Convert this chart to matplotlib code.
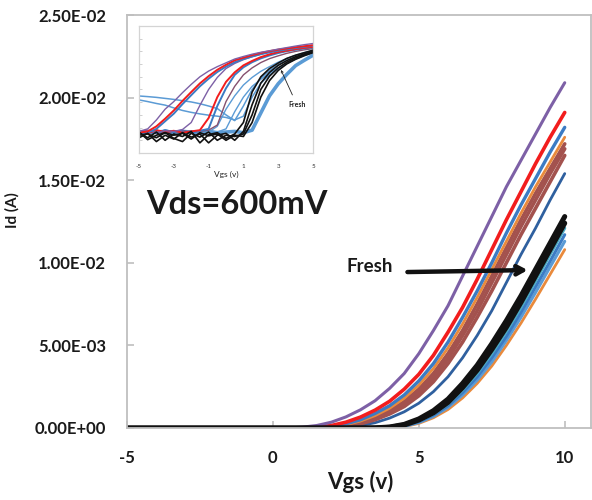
import matplotlib
matplotlib.use("Agg")
import matplotlib.pyplot as plt
import numpy as np
from matplotlib.ticker import FixedLocator, NullFormatter, LogLocator

plt.rcParams['font.family'] = ['Lato', 'DejaVu Sans']

# ---------------- main chart data (Id in mA) ----------------
vgs_main = [-5, 0.5, 1, 1.5, 2, 2.5, 3, 3.5, 4, 4.5, 5, 5.5, 6, 6.5, 7, 7.5, 8, 8.5, 9, 9.5, 10]
id_purple   = [0, 0, 0.05, 0.15, 0.35, 0.67, 1.1, 1.65, 2.4, 3.3, 4.5, 5.9, 7.4, 9.2, 11.0, 12.8, 14.6, 16.2, 17.8, 19.4, 20.9]
id_red      = [0, 0, 0, 0.05, 0.15, 0.35, 0.66, 1.08, 1.62, 2.35, 3.25, 4.4, 5.8, 7.3, 9.0, 10.8, 12.6, 14.3, 16.0, 17.6, 19.1]
id_blue     = [0, 0, 0, 0.03, 0.1, 0.25, 0.5, 0.88, 1.35, 2.0, 2.85, 3.9, 5.2, 6.7, 8.3, 10.0, 11.8, 13.5, 15.1, 16.7, 18.2]
id_orange1  = [0, 0, 0, 0, 0.08, 0.2, 0.42, 0.75, 1.2, 1.8, 2.6, 3.6, 4.85, 6.3, 7.9, 9.6, 11.3, 13.0, 14.6, 16.1, 17.6]
id_brown1   = [0, 0, 0, 0, 0.05, 0.15, 0.35, 0.65, 1.05, 1.6, 2.35, 3.3, 4.5, 5.9, 7.5, 9.2, 10.9, 12.6, 14.2, 15.7, 17.2]
id_brown2   = [0, 0, 0, 0, 0.04, 0.12, 0.3, 0.58, 0.95, 1.45, 2.15, 3.05, 4.2, 5.6, 7.1, 8.8, 10.5, 12.2, 13.8, 15.4, 16.9]
id_brown3   = [0, 0, 0, 0, 0.03, 0.1, 0.25, 0.5, 0.85, 1.3, 1.95, 2.8, 3.9, 5.2, 6.7, 8.3, 10.0, 11.7, 13.3, 14.9, 16.5]
id_darkblue = [0, 0, 0, 0, 0, 0.05, 0.15, 0.32, 0.6, 0.98, 1.5, 2.2, 3.1, 4.25, 5.6, 7.1, 8.8, 10.5, 12.1, 13.8, 15.4]
id_black1   = [0, 0, 0, 0, 0, 0, 0, 0.01, 0.06, 0.22, 0.55, 1.05, 1.75, 2.7, 3.8, 5.1, 6.5, 8.0, 9.6, 11.2, 12.8]
id_black2   = [0, 0, 0, 0, 0, 0, 0, 0, 0.04, 0.18, 0.48, 0.92, 1.55, 2.45, 3.5, 4.75, 6.1, 7.6, 9.2, 10.8, 12.4]
id_teal     = [0, 0, 0, 0, 0, 0, 0, 0, 0.03, 0.14, 0.42, 0.85, 1.45, 2.3, 3.3, 4.5, 5.85, 7.3, 8.9, 10.5, 12.1]
id_blue2    = [0, 0, 0, 0, 0, 0, 0, 0, 0.02, 0.12, 0.38, 0.78, 1.35, 2.15, 3.1, 4.25, 5.55, 7.0, 8.55, 10.1, 11.7]
id_ltblue   = [0, 0, 0, 0, 0, 0, 0, 0, 0, 0.1, 0.33, 0.7, 1.25, 2.0, 2.9, 4.0, 5.3, 6.7, 8.2, 9.75, 11.3]
id_orange2  = [0, 0, 0, 0, 0, 0, 0, 0, 0, 0.08, 0.28, 0.62, 1.12, 1.82, 2.7, 3.75, 5.0, 6.35, 7.8, 9.3, 10.8]

x_ticks = [-5, 0, 5, 10]
y_ticks = [0, 0.005, 0.010, 0.015, 0.020, 0.025]

# ---------------- inset data (log10 Id) ----------------
vgs_inset = [-5, -4.5, -4, -3.5, -3, -2.5, -2, -1.5, -1, -0.5, 0, 0.5, 1, 1.5, 2, 2.5, 3, 3.5, 4, 4.5, 5]
lg_P1  = [-10.3, -10.1, -9.4, -8.55, -7.95, -7.25, -6.6, -6.0, -5.55, -5.2, -4.9, -4.6, -4.4, -4.22, -4.07, -3.95, -3.82, -3.7, -3.58, -3.47, -3.38]
lg_R1  = [-10.4, -10.3, -9.9, -9.3, -8.65, -7.9, -7.2, -6.52, -5.95, -5.45, -5.05, -4.7, -4.5, -4.3, -4.12, -3.98, -3.86, -3.77, -3.67, -3.59, -3.51]
lg_B1  = [-10.5, -10.4, -10.1, -9.5, -8.9, -8.15, -7.45, -6.75, -6.15, -5.62, -5.2, -4.85, -4.6, -4.4, -4.22, -4.07, -3.95, -3.84, -3.74, -3.64, -3.55]
lg_P2  = [-10.35, -10.2, -10.4, -10.25, -10.3, -10.15, -9.6, -8.25, -7.0, -6.05, -5.35, -4.95, -4.65, -4.42, -4.22, -4.05, -3.92, -3.8, -3.7, -3.62, -3.55]
lg_R2  = [-10.3, -10.45, -10.2, -10.35, -10.25, -10.4, -10.3, -10.2, -9.25, -7.6, -6.4, -5.65, -5.1, -4.75, -4.45, -4.23, -4.05, -3.94, -3.82, -3.72, -3.64]
lg_B2  = [-10.4, -10.3, -10.45, -10.2, -10.35, -10.3, -10.4, -10.25, -10.1, -8.3, -6.9, -5.85, -5.25, -4.85, -4.55, -4.32, -4.13, -3.98, -3.87, -3.77, -3.68]
lg_M1  = [-10.3, -10.35, -10.2, -10.4, -10.3, -10.25, -10.35, -10.3, -10.2, -9.8, -7.95, -6.75, -5.85, -5.3, -4.88, -4.57, -4.35, -4.15, -4.0, -3.88, -3.78]
lg_L1  = [-10.4, -10.3, -10.35, -10.2, -10.3, -10.4, -10.25, -10.3, -10.35, -9.9, -8.55, -7.5, -6.65, -6.05, -5.57, -5.2, -4.85, -4.55, -4.3, -4.1, -3.91]
lg_L2  = [-10.3, -10.4, -10.25, -10.35, -10.3, -10.2, -10.4, -10.3, -10.25, -10.35, -10.1, -8.75, -7.6, -6.75, -6.2, -5.7, -5.3, -4.92, -4.6, -4.3, -4.04]
lg_LK1 = [-7.51, -7.56, -7.62, -7.7, -7.78, -7.88, -7.98, -8.12, -8.3, -8.5, -9.0, -9.45, -8.3, -7.0, -6.1, -5.5, -5.05, -4.7, -4.42, -4.2, -4.0]
lg_LK2 = [-7.82, -7.95, -8.1, -8.23, -8.45, -8.65, -8.8, -8.92, -9.02, -9.1, -9.2, -9.4, -9.1, -7.6, -6.5, -5.85, -5.35, -4.95, -4.6, -4.32, -4.1]
lg_K1  = [-10.4, -10.8, -10.35, -11.0, -10.5, -10.7, -10.3, -11.2, -10.55, -10.4, -10.85, -10.5, -9.6, -7.2, -6.0, -5.35, -4.92, -4.55, -4.3, -4.1, -3.91]
lg_K2  = [-10.8, -10.45, -11.1, -10.6, -10.9, -10.4, -10.75, -10.5, -11.2, -10.6, -10.45, -11.0, -10.3, -8.2, -6.5, -5.65, -5.1, -4.72, -4.42, -4.2, -4.0]
lg_K3  = [-10.35, -10.95, -10.6, -10.4, -10.85, -11.1, -10.45, -10.75, -10.35, -11.0, -10.6, -10.7, -10.5, -9.0, -7.0, -5.95, -5.3, -4.85, -4.52, -4.27, -4.05]
lg_K4  = [-10.6, -10.5, -10.8, -10.4, -10.6, -10.45, -10.9, -10.4, -10.65, -10.5, -11.0, -10.6, -10.7, -9.6, -7.6, -6.3, -5.5, -4.98, -4.62, -4.34, -4.1]
lg_TB  = [-10.3, -10.4, -10.35, -10.3, -10.4, -10.3, -10.35, -10.45, -10.3, -10.4, -10.35, -10.3, -10.4, -10.2, -8.85, -7.5, -6.55, -5.8, -5.12, -4.7, -4.3]
inset_x_ticks = [-5, -3, -1, 1, 3, 5]

# ---------------- colours ----------------
C_PURPLE = '#7D60A6'
C_RED = '#F21D1D'
C_BLUE = '#3B7BC4'
C_ORANGE = '#E98A3C'
C_BROWN = '#A3524E'
C_DKBLUE = '#2F609F'
C_BLACK = '#111111'
C_TEAL = '#4AAAC4'
C_LTBLUE = '#5B9BD5'
C_MAUVE = '#85506E'
GRID_GREY = '#BFBFBF'

fig = plt.figure(figsize=(5.92, 5.0), dpi=100)
ax = fig.add_axes([127/592, 1-428/500, 464/592, 413/500])

def mA(v):
    return np.asarray(v) / 1000.0

main_series = [
    (id_orange2, C_ORANGE, 2.0),
    (id_ltblue, C_LTBLUE, 2.2),
    (id_blue2, C_BLUE, 2.2),
    (id_teal, C_TEAL, 2.2),
    (id_darkblue, C_DKBLUE, 2.0),
    (id_brown3, C_BROWN, 2.6),
    (id_brown2, C_BROWN, 2.6),
    (id_brown1, C_BROWN, 2.6),
    (id_orange1, C_ORANGE, 2.0),
    (id_blue, C_BLUE, 2.4),
    (id_red, C_RED, 2.6),
    (id_purple, C_PURPLE, 2.2),
    (id_black2, C_BLACK, 3.6),
    (id_black1, C_BLACK, 3.6),
]
for vals, col, lw in main_series:
    ax.plot(vgs_main, mA(vals), color=col, lw=lw, solid_capstyle='round')

ax.set_xlim(-5, 10.9)
ax.set_ylim(0, 0.025)
ax.set_xticks(x_ticks)
ax.set_xticklabels([str(t) for t in x_ticks])
ax.set_yticks(y_ticks)
ax.set_yticklabels([f"{t:.2E}" for t in y_ticks])
for s in ax.spines.values():
    s.set_color(GRID_GREY)
    s.set_linewidth(1.3)
ax.tick_params(axis='both', direction='in', length=5, color=GRID_GREY, width=1.2,
               labelsize=12, labelcolor='#1a1a1a')
ax.tick_params(axis='y', pad=15)
ax.tick_params(axis='x', pad=16)
for lbl in ax.get_xticklabels() + ax.get_yticklabels():
    lbl.set_fontweight('bold')

ax.set_xlabel('Vgs (v)', fontsize=16, fontweight='bold', color='#1a1a1a')
ax.xaxis.set_label_coords(0.502, -0.131)
ax.xaxis.label.set_va('center')
ax.set_ylabel('Id (A)', fontsize=11, fontweight='bold', color='#1a1a1a')
ax.yaxis.set_label_coords(-0.248, 0.528)
ax.yaxis.label.set_va('center')

ax.annotate('', xy=(8.73, 0.00956), xytext=(4.61, 0.00944),
            arrowprops=dict(arrowstyle='->, head_length=0.55, head_width=0.3',
                            color=C_BLACK, lw=3.2, shrinkA=0, shrinkB=0))
ax.text(3.31, 0.0098, 'Fresh', fontsize=13.5, fontweight='bold', color='#1a1a1a',
        ha='center', va='center')

ax.text(0.237, 0.54, 'Vds=600mV', transform=ax.transAxes, fontsize=23.5,
        fontweight='bold', color='#1a1a1a', ha='center', va='center')

# ---------------- inset ----------------
ins = fig.add_axes([139/592, 1-153/500, 174/592, 127/500])
ins.set_yscale('log')
inset_series = [
    (lg_LK1, C_LTBLUE, 1.1),
    (lg_LK2, C_LTBLUE, 1.1),
    (lg_L2, C_LTBLUE, 1.0),
    (lg_L1, C_LTBLUE, 1.0),
    (lg_TB, C_LTBLUE, 2.6),
    (lg_M1, C_MAUVE, 1.0),
    (lg_B2, C_BLUE, 1.4),
    (lg_R2, C_RED, 1.4),
    (lg_P2, C_PURPLE, 1.0),
    (lg_B1, C_BLUE, 1.4),
    (lg_R1, C_RED, 1.4),
    (lg_P1, C_PURPLE, 1.0),
    (lg_K4, C_BLACK, 1.2),
    (lg_K3, C_BLACK, 1.2),
    (lg_K2, C_BLACK, 1.2),
    (lg_K1, C_BLACK, 1.2),
]
for vals, col, lw in inset_series:
    ins.plot(vgs_inset, 10.0 ** np.asarray(vals), color=col, lw=lw)

ins.set_xlim(-5, 5)
ins.set_ylim(1e-12, 1e-2)
ins.set_xticks(inset_x_ticks)
ins.set_xticklabels([str(t) for t in inset_x_ticks])
ins.yaxis.set_major_locator(LogLocator(base=10, numticks=12))
ins.yaxis.set_minor_locator(FixedLocator([]))
ins.yaxis.set_major_formatter(NullFormatter())
for s in ins.spines.values():
    s.set_color('#D4D4D4')
    s.set_linewidth(0.9)
ins.tick_params(axis='y', direction='in', length=2, color='#C8C8C8', width=0.6)
ins.tick_params(axis='x', length=0, pad=8, labelsize=4.5, labelcolor='#333333')
ins.set_xlabel('Vgs (v)', fontsize=6, color='#222222', labelpad=0)
ins.xaxis.set_label_coords(0.5, -0.17)
ins.xaxis.label.set_va('center')

ins.annotate('Fresh', xy=(0.816, 0.654), xytext=(0.908, 0.378), xycoords='axes fraction',
             textcoords='axes fraction', fontsize=5, fontweight='bold', color='#222222',
             ha='center', va='center',
             arrowprops=dict(arrowstyle='->, head_length=0.3, head_width=0.15',
                             color='#222222', lw=0.6, shrinkA=3, shrinkB=0))

fig.savefig('out.png', dpi=100)
